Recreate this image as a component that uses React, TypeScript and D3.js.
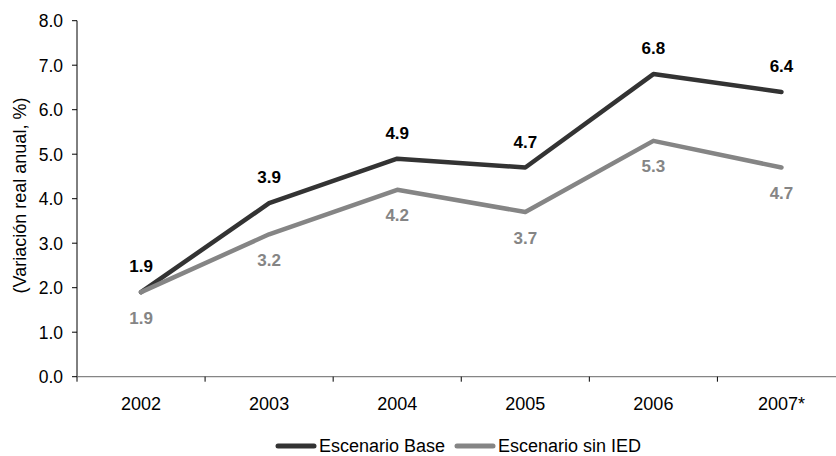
import React from "react";
import * as d3 from "d3";

const years = ["2002", "2003", "2004", "2005", "2006", "2007*"];
const baseValues = [1.9, 3.9, 4.9, 4.7, 6.8, 6.4];
const sinIedValues = [1.9, 3.2, 4.2, 3.7, 5.3, 4.7];
const yTicks = [0, 1, 2, 3, 4, 5, 6, 7, 8];
const seriesNames = ["Escenario Base", "Escenario sin IED"];

const W = 836;
const H = 456;
const FONT = "'Liberation Sans', Arial, sans-serif";
const DARK = "#333333";
const GREY = "#858585";

export default function App() {
  const x = d3.scaleBand<string>().domain(years).range([77, 845.5]).padding(0);
  const y = d3.scaleLinear().domain([0, 8]).range([376.7, 20.7]);
  const cx = (d: string) => (x(d) as number) + x.bandwidth() / 2;

  const line = d3
    .line<number>()
    .x((_, i) => cx(years[i]))
    .y((v) => y(v));

  const series = [
    { name: seriesNames[0], values: baseValues, color: DARK, labelColor: "#000", dy: -20 },
    { name: seriesNames[1], values: sinIedValues, color: GREY, labelColor: GREY, dy: 31.6 },
  ];

  const x0 = 77;
  const yBase = y(0);

  return (
    <svg
      width={W}
      height={H}
      style={{ position: "absolute", left: 0, top: 0, background: "#fff" }}
      fontFamily={FONT}
    >
      {/* y axis */}
      <line x1={x0} x2={x0} y1={y(8)} y2={yBase} stroke="#000" strokeWidth={1} />
      {yTicks.map((t) => (
        <g key={t}>
          <line x1={x0 - 5} x2={x0} y1={y(t)} y2={y(t)} stroke="#000" strokeWidth={1} />
          <text
            x={63}
            y={y(t)}
            dy="0.36em"
            textAnchor="end"
            fontSize={17.5}
            fill="#000"
          >
            {t.toFixed(1)}
          </text>
        </g>
      ))}
      <text
        transform={`translate(20,195.5) rotate(-90)`}
        textAnchor="middle"
        fontSize={18}
        fill="#000"
        dy="0.36em"
      >
        (Variación real anual, %)
      </text>

      {/* x axis */}
      <line x1={x0} x2={W} y1={yBase} y2={yBase} stroke={GREY} strokeWidth={1.3} />
      {years.map((yr) => (
        <g key={yr}>
          <line
            x1={x(yr) as number}
            x2={x(yr) as number}
            y1={yBase}
            y2={yBase + 5}
            stroke="#000"
            strokeWidth={1}
          />
          <text x={cx(yr)} y={409.5} textAnchor="middle" fontSize={18} fill="#000">
            {yr}
          </text>
        </g>
      ))}

      {/* series lines and value labels */}
      {series.map((s) => (
        <g key={s.name}>
          <path
            d={line(s.values) as string}
            fill="none"
            stroke={s.color}
            strokeWidth={4.5}
            strokeLinejoin="round"
            strokeLinecap="round"
          />
          {s.values.map((v, i) => (
            <text
              key={i}
              x={cx(years[i])}
              y={y(v) + s.dy}
              textAnchor="middle"
              fontSize={17}
              fontWeight="bold"
              fill={s.labelColor}
            >
              {v.toFixed(1)}
            </text>
          ))}
        </g>
      ))}

      {/* legend */}
      <g>
        <line x1={278} x2={314} y1={446} y2={446} stroke={DARK} strokeWidth={5} strokeLinecap="round" />
        <text x={319} y={451.8} fontSize={18} fill="#000">
          {seriesNames[0]}
        </text>
        <line x1={457} x2={493} y1={446} y2={446} stroke={GREY} strokeWidth={5} strokeLinecap="round" />
        <text x={498} y={451.8} fontSize={18} fill="#000">
          {seriesNames[1]}
        </text>
      </g>
    </svg>
  );
}
